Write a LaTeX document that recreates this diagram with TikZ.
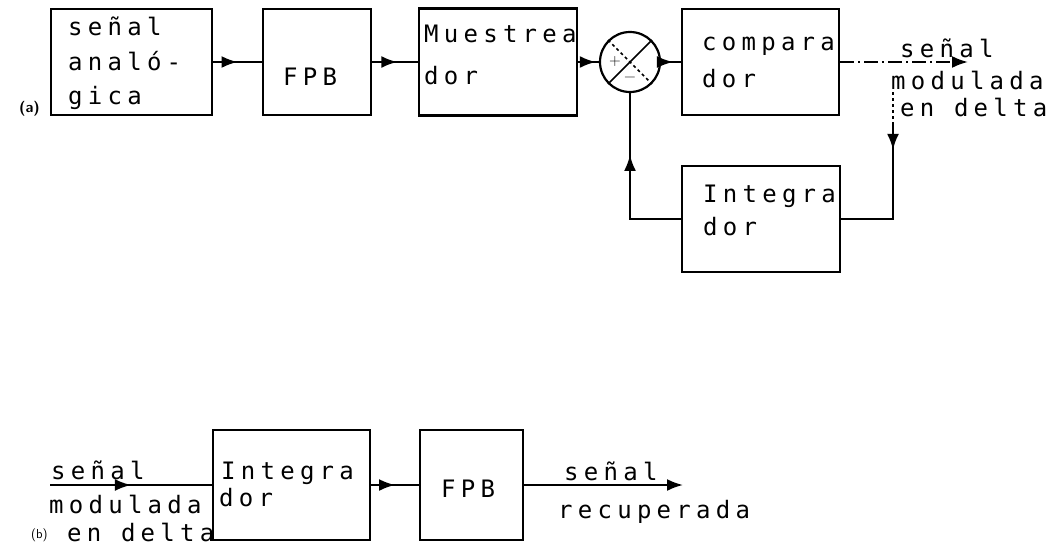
\documentclass[tikz,border=0pt]{standalone}
\usepackage{fontspec}
\newfontfamily\tw[LetterSpace=22]{DejaVu Sans Mono}
\usetikzlibrary{arrows.meta,decorations.markings,calc}
\begin{document}
\begin{tikzpicture}[x=1pt,y=-1pt, line width=2.2pt,
  blk/.style={draw, rectangle, inner sep=0pt},
  lbl/.style={anchor=base west, inner sep=0pt, font=\tw\fontsize{24}{24}\selectfont},
  tag/.style={anchor=base west, inner sep=0pt, font=\sffamily\bfseries\fontsize{15}{15}\selectfont},
  midarr/.style={postaction={decorate}, decoration={markings, mark=at position #1 with {\arrow{Latex[length=16pt,width=12pt]}}}},
  endarr/.style={-{Latex[length=16pt,width=12pt]}},
  dashdot/.style={dash pattern=on 14pt off 4pt on 2pt off 4pt}]
\useasboundingbox (0,0) rectangle (1063,549);

% ---- (a) ----
\node[blk, minimum width=161pt, minimum height=106pt] (b1) at (131.5,62) {};
\node[blk, minimum width=108pt, minimum height=106pt] (fpba) at (317,62) {};
\node[blk, minimum width=158pt, minimum height=107pt] (mue) at (498,62) {};
\node[draw, circle, minimum size=60pt, inner sep=0pt] (sum) at (630,62) {};
\node[blk, minimum width=157pt, minimum height=106pt] (comp) at (760.5,62) {};
\node[blk, minimum width=158pt, minimum height=106pt] (inta) at (761,219) {};

\node[tag] (la) at (18,112) {(a)};
\node[lbl] (t1a) at (67,35) {señal};
\node[lbl] (t1b) at (67,70) {analó-};
\node[lbl] (t1c) at (67,104) {gica};
\node[lbl] (t2) at (282,85) {FPB};
\node[lbl] (t3a) at (423,42) {Muestrea};
\node[lbl] (t3b) at (423,84) {dor};
\node[lbl] (t4a) at (701,50) {compara};
\node[lbl] (t4b) at (701,87) {dor};
\node[lbl] (t5a) at (702,202) {Integra};
\node[lbl] (t5b) at (702,235) {dor};
\node[lbl] (t6a) at (899,57) {señal};
\node[lbl] (t6b) at (890,89) {modulada};
\node[lbl] (t6c) at (899,116) {en delta};

% summing junction marks
\draw[line width=1.6pt] (sum.225) -- (sum.45);
\draw[line width=1.6pt, dashed] (sum.135) -- (sum.315);
\node[inner sep=0pt, font=\sffamily\fontsize{16}{16}\selectfont] (plus) at (615,62) {+};
\node[inner sep=0pt, font=\sffamily\fontsize{16}{16}\selectfont] (minus) at (630,79) {\textminus};

\draw[midarr=0.5] (b1.east) -- (fpba.west);
\draw[midarr=0.55] (fpba.east) -- (mue.west);
\draw[midarr=0.85] (mue.east) -- (sum.west);
\draw[midarr=0.6] (sum.east) -- (comp.west);
\coordinate (outa) at (968,62);
\draw[endarr, dashdot] (comp.east) -- (outa);
\coordinate (tap) at (893,92);
\coordinate (tapm) at (893,125);
\draw[dashed] (tap) -- (tapm);
\draw[midarr=0.17] (tapm) |- (inta.east);
\draw[midarr=0.65] (inta.west) -| (sum.south);

% ---- (b) ----
\node[blk, minimum width=157pt, minimum height=110pt] (intb) at (291.5,485) {};
\node[blk, minimum width=103pt, minimum height=110pt] (fpbb) at (471.5,485) {};

\node[lbl] (s1) at (50,479) {señal};
\node[lbl] (s2) at (48,513) {modulada};
\node[lbl] (s3) at (66,541) {en delta};
\node[anchor=base west, inner sep=0pt, font=\sffamily\fontsize{13}{13}\selectfont] (lb) at (30,538) {(b)};
\node[lbl] (s4) at (220,479) {Integra};
\node[lbl] (s5) at (218,506) {dor};
\node[lbl] (s6) at (440,497) {FPB};
\node[lbl] (s7) at (563,480) {señal};
\node[lbl] (s8) at (557,518) {recuperada};

\coordinate (inb) at (50,485);
\draw[midarr=0.5] (inb) -- (intb.west);
\draw[midarr=0.5] (intb.east) -- (fpbb.west);
\coordinate (outb) at (683,485);
\draw[endarr] (fpbb.east) -- (outb);
\end{tikzpicture}
\end{document}
